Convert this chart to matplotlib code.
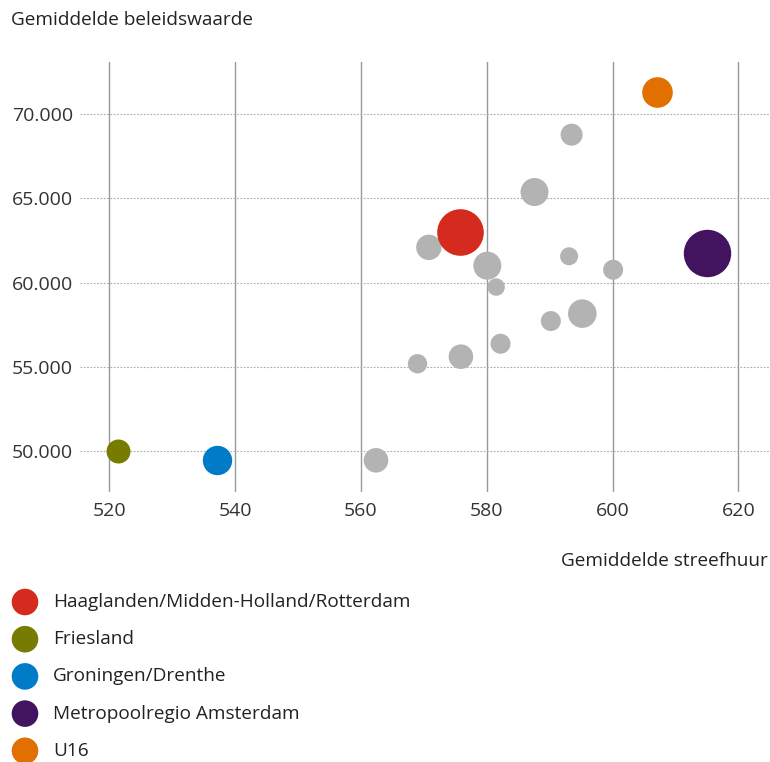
import matplotlib
matplotlib.use("Agg")
import matplotlib.pyplot as plt
from matplotlib.ticker import FuncFormatter

plt.rcParams['font.family'] = ['Open Sans', 'DejaVu Sans']

# ---- data ----
# grey regions (unnamed)
grey_streefhuur = [593.5, 587.6, 570.8, 580.1, 593.1, 600.1, 581.5, 590.2, 595.2,
                   582.2, 575.9, 569.0, 562.4]
grey_beleidswaarde = [68790, 65380, 62090, 61000, 61560, 60760, 59730, 57710, 58150,
                      56360, 55590, 55170, 49430]
grey_omvang = [121, 196, 161, 196, 81, 100, 76, 100, 204, 100, 151, 94, 151]

# highlighted regions
regions = ["Haaglanden/Midden-Holland/Rotterdam", "Friesland", "Groningen/Drenthe",
           "Metropoolregio Amsterdam", "U16"]
region_streefhuur = [575.8, 521.4, 537.2, 615.1, 607.1]
region_beleidswaarde = [63020, 49980, 49430, 61770, 71330]
region_omvang = [543, 144, 216, 562, 234]
region_colors = ["#d52b1e", "#777c00", "#007bc7", "#42145f", "#e17000"]

x_ticks = [520, 540, 560, 580, 600, 620]
y_ticks = [50000, 55000, 60000, 65000, 70000]

# ---- figure ----
W, H = 770, 762
fig = plt.figure(figsize=(W / 100, H / 100), dpi=100)
ax = fig.add_axes([80 / W, 1 - 492 / H, (770 - 80) / W, (492 - 62) / H])

def area(r):
    # "omvang" -> marker area in points^2 (radius px = sqrt(omvang))
    return [(2 * (v ** 0.5) * 72 / 100) ** 2 for v in r]

ax.scatter(grey_streefhuur, grey_beleidswaarde, s=area(grey_omvang),
           color="#b3b3b3", linewidths=0, zorder=3)
for xs, ys, om, c in zip(region_streefhuur, region_beleidswaarde, region_omvang, region_colors):
    ax.scatter([xs], [ys], s=area([om]), color=c, linewidths=0, zorder=4)

ax.set_xlim(515.34, 625.04)
ax.set_ylim(47545, 73110)
ax.set_xticks(x_ticks)
ax.set_yticks(y_ticks)
ax.yaxis.set_major_formatter(FuncFormatter(lambda v, p: f"{int(v):,}".replace(",", ".")))

for s in ax.spines.values():
    s.set_visible(False)
ax.tick_params(axis='both', length=0, labelsize=14, colors="#333333")
ax.tick_params(axis='x', pad=7)
ax.tick_params(axis='y', pad=5)

for xv in x_ticks:
    ax.axvline(xv, color="#999999", lw=1.0, zorder=1)
for yv in y_ticks:
    ax.axhline(yv, color="#aaaaaa", lw=0.8, ls=(0, (1.5, 1.5)), zorder=1)

fig.text(11 / W, 1 - 20 / H, "Gemiddelde beleidswaarde", fontsize=13.7,
         color="#222222", ha="left", va="center")
fig.text(768 / W, 1 - 561 / H, "Gemiddelde streefhuur", fontsize=13.7,
         color="#222222", ha="right", va="center")

# ---- legend (manual, in pixel coordinates) ----
lax = fig.add_axes([0, 0, 1, 1])
lax.set_xlim(0, W)
lax.set_ylim(H, 0)
lax.axis("off")
row_y = [602 + 37.2 * i for i in range(len(regions))]
lax.scatter([25] * len(regions), row_y, s=(2 * 13.3 * 72 / 100) ** 2,
            color=region_colors, linewidths=0)
for yy, lab in zip(row_y, regions):
    lax.text(53, yy, lab, fontsize=13.7, color="#222222", ha="left", va="center")

fig.savefig("out.png", dpi=100)
